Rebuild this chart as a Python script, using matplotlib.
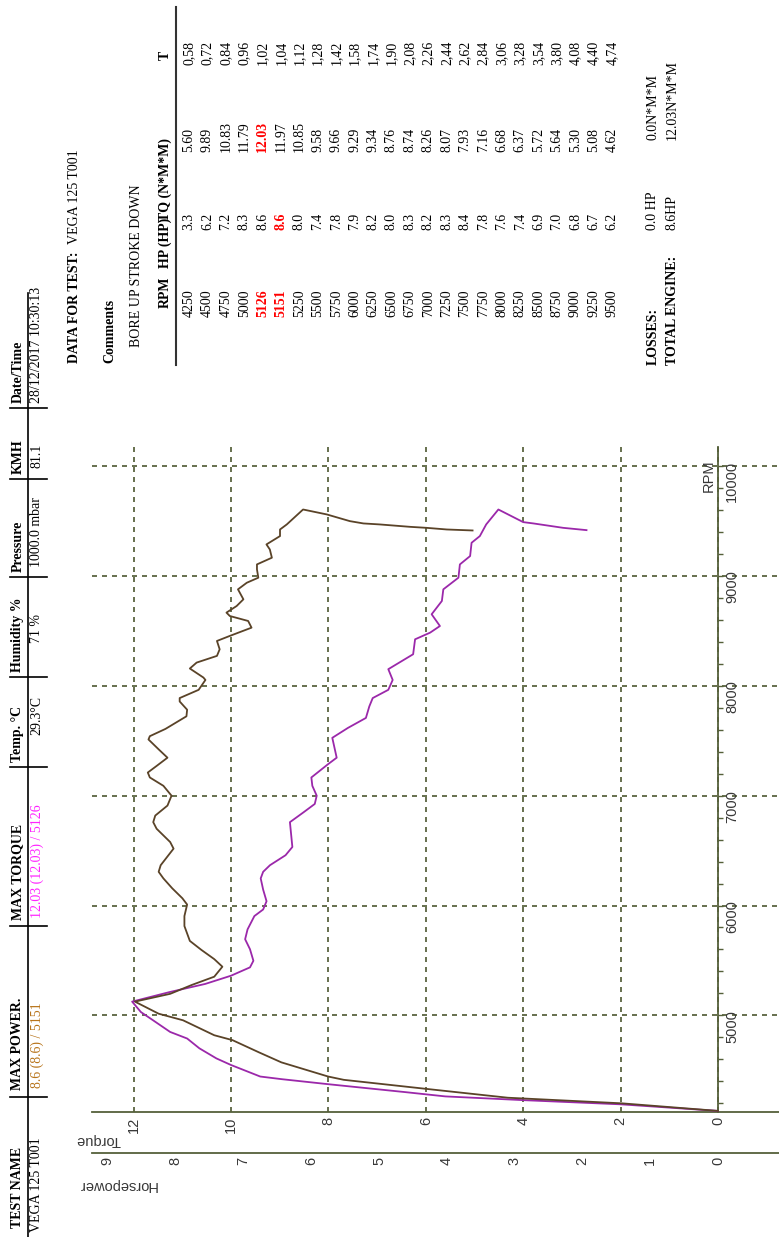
import matplotlib
matplotlib.use("Agg")
import matplotlib.pyplot as plt
from matplotlib.ticker import FixedLocator
from matplotlib.lines import Line2D

# ---------------- data ----------------
# torque curve (N*m), along the run
TQ_RPM = [4130, 4190, 4228, 4262, 4300, 4373, 4419, 4443, 4548, 4608, 4700, 4789, 4849,
          4955, 5030, 5125, 5211, 5286, 5361, 5437, 5497, 5602, 5693, 5783, 5904,
          5964, 6039, 6145, 6247, 6307, 6367, 6458, 6533, 6759, 6849, 6925, 7000,
          7090, 7166, 7286, 7346, 7527, 7617, 7708, 7813, 7889, 7964, 8054, 8152,
          8288, 8424, 8485, 8545, 8652, 8773, 8879, 8985, 9106, 9182, 9303, 9364,
          9470, 9606, 9491, 9479, 9439, 9418]
TQ_VAL = [0.0, 2.0, 4.0, 5.6, 6.4, 8.0, 8.96, 9.4, 10.0, 10.3, 10.65, 10.9, 11.25,
          11.6, 11.85, 12.03, 11.27, 10.53, 10.0, 9.61, 9.54, 9.61, 9.71, 9.66, 9.52,
          9.34, 9.27, 9.34, 9.39, 9.34, 9.2, 8.88, 8.74, 8.79, 8.51, 8.28, 8.24,
          8.33, 8.35, 8.01, 7.83, 7.92, 7.6, 7.23, 7.16, 7.09, 6.77, 6.68, 6.77,
          6.26, 6.22, 5.91, 5.71, 5.88, 5.67, 5.64, 5.33, 5.30, 5.09, 5.06, 4.89,
          4.76, 4.51, 4.0, 3.79, 3.18, 2.70]

# horsepower curve (HP)
HP_RPM = [4130, 4199, 4250, 4331, 4413, 4443, 4572, 4663, 4774, 4819, 4955, 5015, 5125,
          5196, 5277, 5352, 5443, 5512, 5596, 5678, 5813, 5904, 6009, 6066, 6157,
          6247, 6307, 6367, 6518, 6578, 6699, 6759, 6819, 6910, 7000, 7090, 7166,
          7211, 7271, 7346, 7422, 7512, 7542, 7608, 7723, 7783, 7858, 7889, 7964,
          8054, 8076, 8158, 8212, 8273, 8333, 8409, 8455, 8530, 8591, 8636, 8667,
          8727, 8788, 8879, 8939, 8985, 9061, 9106, 9167, 9242, 9288, 9364, 9424,
          9470, 9606, 9561, 9500, 9479, 9470, 9448, 9439, 9424, 9415]
HP_VAL = [0.0, 1.42, 3.1, 4.31, 5.52, 5.75, 6.44, 6.77, 7.16, 7.43, 7.89, 8.25, 8.6,
          8.08, 7.76, 7.43, 7.31, 7.43, 7.62, 7.79, 7.87, 7.87, 7.83, 7.90, 8.05,
          8.18, 8.25, 8.22, 8.03, 8.08, 8.28, 8.33, 8.30, 8.12, 8.06, 8.18, 8.38,
          8.41, 8.28, 8.12, 8.25, 8.40, 8.38, 8.15, 7.84, 7.83, 7.94, 7.94, 7.66,
          7.56, 7.59, 7.79, 7.69, 7.39, 7.35, 7.39, 7.2, 6.88, 6.93, 7.2, 7.25,
          7.1, 7.0, 7.08, 6.95, 6.78, 6.80, 6.80, 6.58, 6.61, 6.66, 6.46, 6.46,
          6.36, 6.12, 5.77, 5.43, 5.23, 4.99, 4.54, 4.30, 4.0, 3.62]

RPM_MAJOR = [5000, 6000, 7000, 8000, 9000, 10000]
RPM_MINOR = [r for r in range(4200, 10001, 200) if r % 1000]
TQ_TICKS = [0, 2, 4, 6, 8, 10, 12]
HP_TICKS = [0, 1, 2, 3, 4, 5, 6, 7, 8, 9]

TABLE_RPM = [4250, 4500, 4750, 5000, 5126, 5151, 5250, 5500, 5750, 6000, 6250, 6500,
             6750, 7000, 7250, 7500, 7750, 8000, 8250, 8500, 8750, 9000, 9250, 9500]
TABLE_HP = [3.3, 6.2, 7.2, 8.3, 8.6, 8.6, 8.0, 7.4, 7.8, 7.9, 8.2, 8.0,
            8.3, 8.2, 8.3, 8.4, 7.8, 7.6, 7.4, 6.9, 7.0, 6.8, 6.7, 6.2]
TABLE_TQ = [5.60, 9.89, 10.83, 11.79, 12.03, 11.97, 10.85, 9.58, 9.66, 9.29, 9.34, 8.76,
            8.74, 8.26, 8.07, 7.93, 7.16, 6.68, 6.37, 5.72, 5.64, 5.30, 5.08, 4.62]
TABLE_T = ["0,58", "0,72", "0,84", "0,96", "1,02", "1,04", "1,12", "1,28", "1,42", "1,58",
           "1,74", "1,90", "2,08", "2,26", "2,44", "2,62", "2,84", "3,06", "3,28", "3,54",
           "3,80", "4,08", "4,40", "4,74"]
MAX_TQ_ROW = 4
MAX_HP_ROW = 5

HEADER_NAMES = ["TEST NAME", "MAX POWER.", "MAX TORQUE", "Temp. \u00b0C", "Humidity %",
                "Pressure", "KMH", "Date/Time"]
HEADER_VALUES = ["VEGA 125 T001", "8.6 (8.6) / 5151", "12.03 (12.03) / 5126", "29.3\u00b0C",
                 "71 %", "1000.0 mbar", "81.1", "28/12/2017 10:30:13"]

# ---------------- layout ----------------
W, H = 779, 1237
fig = plt.figure(figsize=(W / 100, H / 100), dpi=100)
PT = 72 / 100  # points per pixel


def fx(x):
    return x / W


def fy(y):
    return 1 - y / H


SERIF = ["Liberation Serif", "DejaVu Serif"]
SANS = ["Liberation Sans", "DejaVu Sans"]
GRID = "#4d5830"
AXC = "#55603a"
TXT = "#383838"
PURPLE = "#9b28aa"
BROWN = "#5a4328"


def T(x, y, s, size=10.5, weight="normal", color="black", family=SERIF, rot=90,
      ha="center", va="bottom"):
    fig.text(fx(x), fy(y), s, rotation=rot, ha=ha, va=va, fontsize=size,
             fontweight=weight, color=color, family=family)


def L(x0, y0, x1, y1, lw=1.2, color="black"):
    fig.add_artist(Line2D([fx(x0), fx(x1)], [fy(y0), fy(y1)], lw=lw, color=color,
                          transform=fig.transFigure))


# ---------------- chart ----------------
x_left, x_right, y_top, y_bot = 92, 779, 447, 1112
ax = fig.add_axes([fx(x_left), fy(y_bot), fx(x_right) - fx(x_left), fy(y_top) - fy(y_bot)])
px_per_nm = 48.7
px_per_hp = 67.8
ax.set_xlim((718 - x_left) / px_per_nm, (718 - x_right) / px_per_nm)
ax.set_ylim(4120, 10175)
ax.patch.set_alpha(0)

for s in ["top", "left"]:
    ax.spines[s].set_visible(False)
ax.spines["right"].set_position(("data", 0.0))
ax.spines["right"].set_color(AXC)
ax.spines["right"].set_linewidth(1.3)
ax.spines["bottom"].set_color(AXC)
ax.spines["bottom"].set_linewidth(1.3)

ax.yaxis.set_ticks_position("right")
ax.yaxis.set_major_locator(FixedLocator(RPM_MAJOR))
ax.yaxis.set_minor_locator(FixedLocator(RPM_MINOR))
ax.tick_params(axis="y", which="both", direction="out", length=5 * PT, width=1, color=AXC,
               labelrotation=90, labelsize=10.5, labelcolor=TXT, pad=2 * PT)
ax.set_yticklabels([str(r) for r in RPM_MAJOR], family=SANS)

ax.xaxis.set_major_locator(FixedLocator(TQ_TICKS))
ax.tick_params(axis="x", which="both", length=0, labelrotation=90, labelsize=10.5,
               labelcolor=TXT, pad=5 * PT)
ax.set_xticklabels([str(t) for t in TQ_TICKS], family=SANS)

ax.grid(True, which="major", linestyle=(0, (3, 3)), color=GRID, lw=1.2)
ax.set_axisbelow(True)

ax.plot(TQ_VAL, TQ_RPM, color=PURPLE, lw=1.3, zorder=3)

ax2 = ax.twiny()
ax2.set_xlim((718 - x_left) / px_per_hp, (718 - x_right) / px_per_hp)
ax2.xaxis.set_ticks_position("bottom")
for s in ["top", "left", "right"]:
    ax2.spines[s].set_visible(False)
ax2.spines["bottom"].set_position(("outward", 41 * PT))
ax2.spines["bottom"].set_color(AXC)
ax2.spines["bottom"].set_linewidth(1.3)
ax2.xaxis.set_major_locator(FixedLocator(HP_TICKS))
ax2.tick_params(axis="x", which="both", length=0, labelrotation=90, labelsize=10.5,
                labelcolor=TXT, pad=4 * PT)
ax2.set_xticklabels([str(t) for t in HP_TICKS], family=SANS)
ax2.plot(HP_VAL, HP_RPM, color=BROWN, lw=1.3, zorder=4)

T(98, 1140, "Torque", rot=180, family=SANS, color=TXT, va="center")
T(117, 1185, "Horsepower", rot=180, family=SANS, color=TXT, va="center")
T(709, 476, "RPM", family=SANS, color=TXT, va="center")

# ---------------- header strip ----------------
head_y = [1228, 1090, 920, 762, 672, 572, 474, 403]
val_y = [1232, 1088, 918, 735, 643, 567, 468, 403]
val_col = ["black", "#b8741a", "#ff22ff", "black", "black", "black", "black", "black"]
for name, value, hy, vy, c in zip(HEADER_NAMES, HEADER_VALUES, head_y, val_y, val_col):
    T(18, hy, name, size=10, weight="bold")
    T(37, vy, value, size=10, color=c)
L(28, 293, 28, 1237)
for sy in [1097, 926, 767, 677, 577, 479, 408]:
    L(10, sy, 47, sy)

T(75, 363, "DATA FOR TEST:", size=10, weight="bold")
T(75, 244, "VEGA 125 T001", size=10)
T(110, 363, "Comments", size=10, weight="bold")
T(137, 347, "BORE UP STROKE DOWN", size=10)

# ---------------- data table ----------------
T(165, 308, "RPM", size=10, weight="bold")
T(165, 268, "HP (HP)", size=10, weight="bold")
T(165, 221, "TQ (N*M*M)", size=10, weight="bold")
T(165, 60, "T", size=10, weight="bold")
L(176, 7, 176, 365, lw=1.5, color="#333333")

row0, dr = 189, 18.4
for i, (r, hp, tq, tt) in enumerate(zip(TABLE_RPM, TABLE_HP, TABLE_TQ, TABLE_T)):
    x = row0 + dr * i
    red_r = i in (MAX_TQ_ROW, MAX_HP_ROW)
    T(x, 317, str(r), size=10, color="red" if red_r else "black",
      weight="bold" if red_r else "normal")
    T(x, 230, f"{hp:.1f}", size=10, color="red" if i == MAX_HP_ROW else "black",
      weight="bold" if i == MAX_HP_ROW else "normal")
    T(x, 152, f"{tq:.2f}", size=10, color="red" if i == MAX_TQ_ROW else "black",
      weight="bold" if i == MAX_TQ_ROW else "normal")
    T(x, 65, tt, size=10)

T(653, 365, "LOSSES:", size=10, weight="bold")
T(653, 230, "0.0 HP", size=10)
T(653, 140, "0.0N*M*M", size=10)
T(672, 365, "TOTAL ENGINE:", size=10, weight="bold")
T(672, 230, "8.6HP", size=10)
T(672, 140, "12.03N*M*M", size=10)

fig.savefig("out.png", dpi=100)
